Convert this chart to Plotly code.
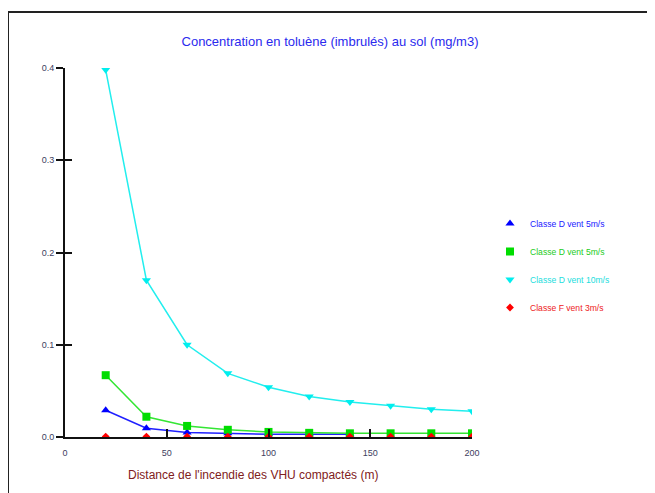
import plotly.graph_objects as go

distances = [20, 40, 60, 80, 100, 120, 140, 160, 180, 200]
dist_blue = [20, 40, 60, 80, 100, 120, 140]
classe_d_5_blue = [0.029, 0.0095, 0.005, 0.004, 0.003, 0.003, 0.003]
classe_d_5_green = [0.067, 0.022, 0.012, 0.0078, 0.0055, 0.0045, 0.004, 0.004, 0.004, 0.004]
classe_d_10 = [0.398, 0.170, 0.100, 0.069, 0.054, 0.044, 0.038, 0.034, 0.030, 0.028]
classe_f_3 = [0.0005] * 10

names = ["Classe D vent 5m/s", "Classe D vent 5m/s", "Classe D vent 10m/s", "Classe F vent 3m/s"]
x_ticks = [0, 50, 100, 150, 200]
y_ticks = [0.0, 0.1, 0.2, 0.3, 0.4]
y_tick_text = ["0.0", "0.1", "0.2", "0.3", "0.4"]

# page body offset (8px) compensation: figure coords = screen coords - 8
OFF = 8
L, R, T, B = 65 - OFF, 472 - OFF, 68 - OFF, 437 - OFF
W, H = 655, 493
PW, PH = R - L, B - T

series = [
    (dist_blue, classe_d_5_blue, "#2020ff", "#0000ff", "triangle-up", 8, "#2020ff", True),
    (distances, classe_d_5_green, "#33e633", "#00dd00", "square", 8, "#22cc22", True),
    (distances, classe_d_10, "#22eeee", "#00eeee", "triangle-down", 8, "#22dddd", True),
    (distances, classe_f_3, "#ee2222", "#ff0000", "diamond", 6, "#ee2222", False),
]

fig = go.Figure()
for i, (xs, ys, lc, mc, sym, sz, tc, draw_line) in enumerate(series):
    if draw_line:
        fig.add_trace(go.Scatter(x=xs, y=ys, mode="lines", line=dict(color=lc, width=1.5),
                                 showlegend=False, hoverinfo="skip"))
    fig.add_trace(go.Scatter(x=xs, y=ys, mode="markers",
                             name=f"<span style='color:{tc}'>{names[i]}</span>",
                             marker=dict(symbol=sym, size=sz, color=mc),
                             legendgroup=f"g{i}"))

tickfont = dict(family="Liberation Sans, Arial", size=9, color="#404060")

fig.update_layout(
    width=W, height=H,
    margin=dict(l=L, r=W - R, t=T, b=H - B),
    paper_bgcolor="white", plot_bgcolor="white",
    title=dict(text="Concentration en toluène (imbrulés) au sol (mg/m3)",
               x=(330 - OFF) / W, xanchor="center", y=1 - (41 - OFF) / H, yanchor="middle",
               font=dict(family="Liberation Sans, Arial", size=13, color="#2a2aee")),
    xaxis=dict(range=[0, 200], tickvals=x_ticks, ticktext=[str(v) for v in x_ticks],
               ticks="inside", ticklen=8, tickcolor="#111", tickwidth=1.5,
               showline=True, linecolor="#111", linewidth=2, showgrid=False, zeroline=False,
               tickfont=tickfont, ticklabelstandoff=6),
    yaxis=dict(range=[0, 0.4], tickvals=y_ticks, ticktext=y_tick_text,
               ticks="outside", ticklen=7, tickcolor="#111", tickwidth=1.5,
               showline=True, linecolor="#111", linewidth=2, showgrid=False, zeroline=False,
               tickfont=tickfont),
    yaxis2=dict(range=[0, 0.4], tickvals=y_ticks, showticklabels=False, overlaying="y",
                ticks="inside", ticklen=7, tickcolor="#111", tickwidth=1.5,
                showline=False, showgrid=False, zeroline=False, side="left"),
    legend=dict(x=(490 - L - OFF) / PW, xanchor="left", y=(B - (209 - OFF)) / PH, yanchor="top",
                font=dict(family="Liberation Sans, Arial", size=8.6),
                traceorder="grouped", tracegroupgap=9, bgcolor="rgba(0,0,0,0)"),
    showlegend=True,
)

fig.add_trace(go.Scatter(x=[0], y=[0], yaxis="y2", mode="markers", marker=dict(opacity=0),
                         showlegend=False, hoverinfo="skip"))

fig.add_annotation(text="Distance de l'incendie des VHU compactés (m)",
                   xref="paper", yref="paper", x=(253 - OFF - L) / PW, y=(B - (475 - OFF)) / PH,
                   xanchor="center", yanchor="middle", showarrow=False,
                   font=dict(family="Liberation Sans, Arial", size=12, color="#802020"))

fig.add_shape(type="rect", xref="paper", yref="paper",
              x0=(8 - OFF - L) / PW, x1=2.0, y0=-1.0, y1=(B - (12 - OFF)) / PH,
              line=dict(color="#222", width=2), fillcolor="rgba(0,0,0,0)", layer="below")

fig.write_html("out.html")
